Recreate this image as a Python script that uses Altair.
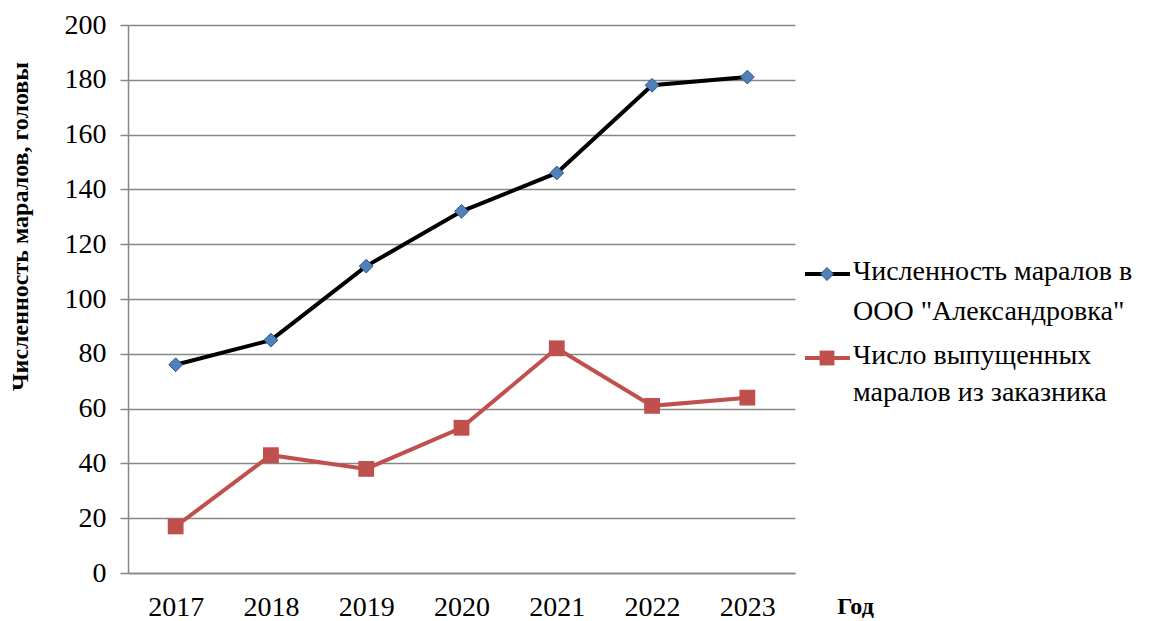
import altair as alt
import pandas as pd

# Data: deer herd size vs. deer released from the reserve, by year
years = ["2017", "2018", "2019", "2020", "2021", "2022", "2023"]
herd = [76, 85, 112, 132, 146, 178, 181]
released = [17, 43, 38, 53, 82, 61, 64]

series_herd = ["Численность маралов в", 'ООО "Александровка"']
series_released = ["Число выпущенных", "маралов из заказника"]

SERIF = "Liberation Serif"
GRID = "#868686"
BLACK = "#000000"
RED = "#C0504D"
BLUE = "#4F81BD"
BLUE_EDGE = "#2F5584"

W, H = 667, 548

df_herd = pd.DataFrame({"year": years, "value": herd})
df_rel = pd.DataFrame({"year": years, "value": released})

x_enc = alt.X(
    "year:O",
    scale=alt.Scale(type="point", padding=0.5),
    axis=alt.Axis(
        title="Год",
        titleFont=SERIF,
        titleFontWeight="bold",
        titleFontSize=24,
        titleColor="black",
        titleX=727,
        titleY=33,
        titleAlign="center",
        titleBaseline="middle",
        labelAngle=0,
        labelFont=SERIF,
        labelFontSize=28,
        labelColor="black",
        labelPadding=20,
        ticks=False,
        domainColor=GRID,
        domainWidth=1.5,
        grid=False,
    ),
)

y_enc = alt.Y(
    "value:Q",
    scale=alt.Scale(domain=[0, 200], nice=False),
    axis=alt.Axis(
        title="Численность маралов, головы",
        titleFont=SERIF,
        titleFontWeight="bold",
        titleFontSize=24,
        titleColor="black",
        titleAngle=-90,
        titleX=-108,
        titleY=201,
        titleAlign="center",
        titleBaseline="middle",
        values=list(range(0, 201, 20)),
        labelFont=SERIF,
        labelFontSize=28,
        labelColor="black",
        labelPadding=14,
        tickSize=8,
        tickColor=GRID,
        tickWidth=1.5,
        domainColor=GRID,
        domainWidth=1.5,
        grid=True,
        gridColor=GRID,
        gridWidth=1.5,
    ),
)

herd_line = alt.Chart(df_herd).mark_line(color=BLACK, strokeWidth=4).encode(x=x_enc, y=y_enc)
herd_pts = alt.Chart(df_herd).mark_point(
    shape="diamond", filled=True, fill=BLUE, stroke=BLUE_EDGE, strokeWidth=1, size=190, opacity=1
).encode(x="year:O", y="value:Q")

rel_line = alt.Chart(df_rel).mark_line(color=RED, strokeWidth=4).encode(x="year:O", y="value:Q")
rel_pts = alt.Chart(df_rel).mark_point(
    shape="square", filled=True, fill=RED, strokeWidth=0, size=250, opacity=1
).encode(x="year:O", y="value:Q")

# Legend drawn beside the plot
one = pd.DataFrame({"k": [0]})
lx0, lx1, lxm, ltx = 677, 722, 699, 725
ly1, ly2 = 249, 333

leg = [
    alt.Chart(one).mark_rule(color=BLACK, strokeWidth=4).encode(
        x=alt.value(lx0), x2=alt.value(lx1), y=alt.value(ly1)),
    alt.Chart(one).mark_point(shape="diamond", filled=True, fill=BLUE, stroke=BLUE_EDGE,
                              strokeWidth=1, size=170, opacity=1).encode(
        x=alt.value(lxm), y=alt.value(ly1)),
    alt.Chart(one).mark_text(align="left", baseline="top", font=SERIF, fontSize=28,
                             lineHeight=40, color="black").encode(
        x=alt.value(ltx), y=alt.value(ly1 - 16), text=alt.value(series_herd)),
    alt.Chart(one).mark_rule(color=RED, strokeWidth=4).encode(
        x=alt.value(lx0), x2=alt.value(lx1), y=alt.value(ly2)),
    alt.Chart(one).mark_point(shape="square", filled=True, fill=RED, strokeWidth=0,
                              size=220, opacity=1).encode(
        x=alt.value(lxm), y=alt.value(ly2)),
    alt.Chart(one).mark_text(align="left", baseline="top", font=SERIF, fontSize=28,
                             lineHeight=37, color="black").encode(
        x=alt.value(ltx), y=alt.value(ly2 - 16), text=alt.value(series_released)),
]

chart = alt.layer(herd_line, rel_line, herd_pts, rel_pts, *leg).properties(
    width=W,
    height=H,
    autosize=alt.AutoSizeParams(type="none"),
    padding={"left": 128, "top": 25, "right": 1173 - 128 - W, "bottom": 621 - 25 - H},
    background="white",
).configure_view(stroke=None)

chart.save("out.html", embed_options={"renderer": "svg", "actions": False})
